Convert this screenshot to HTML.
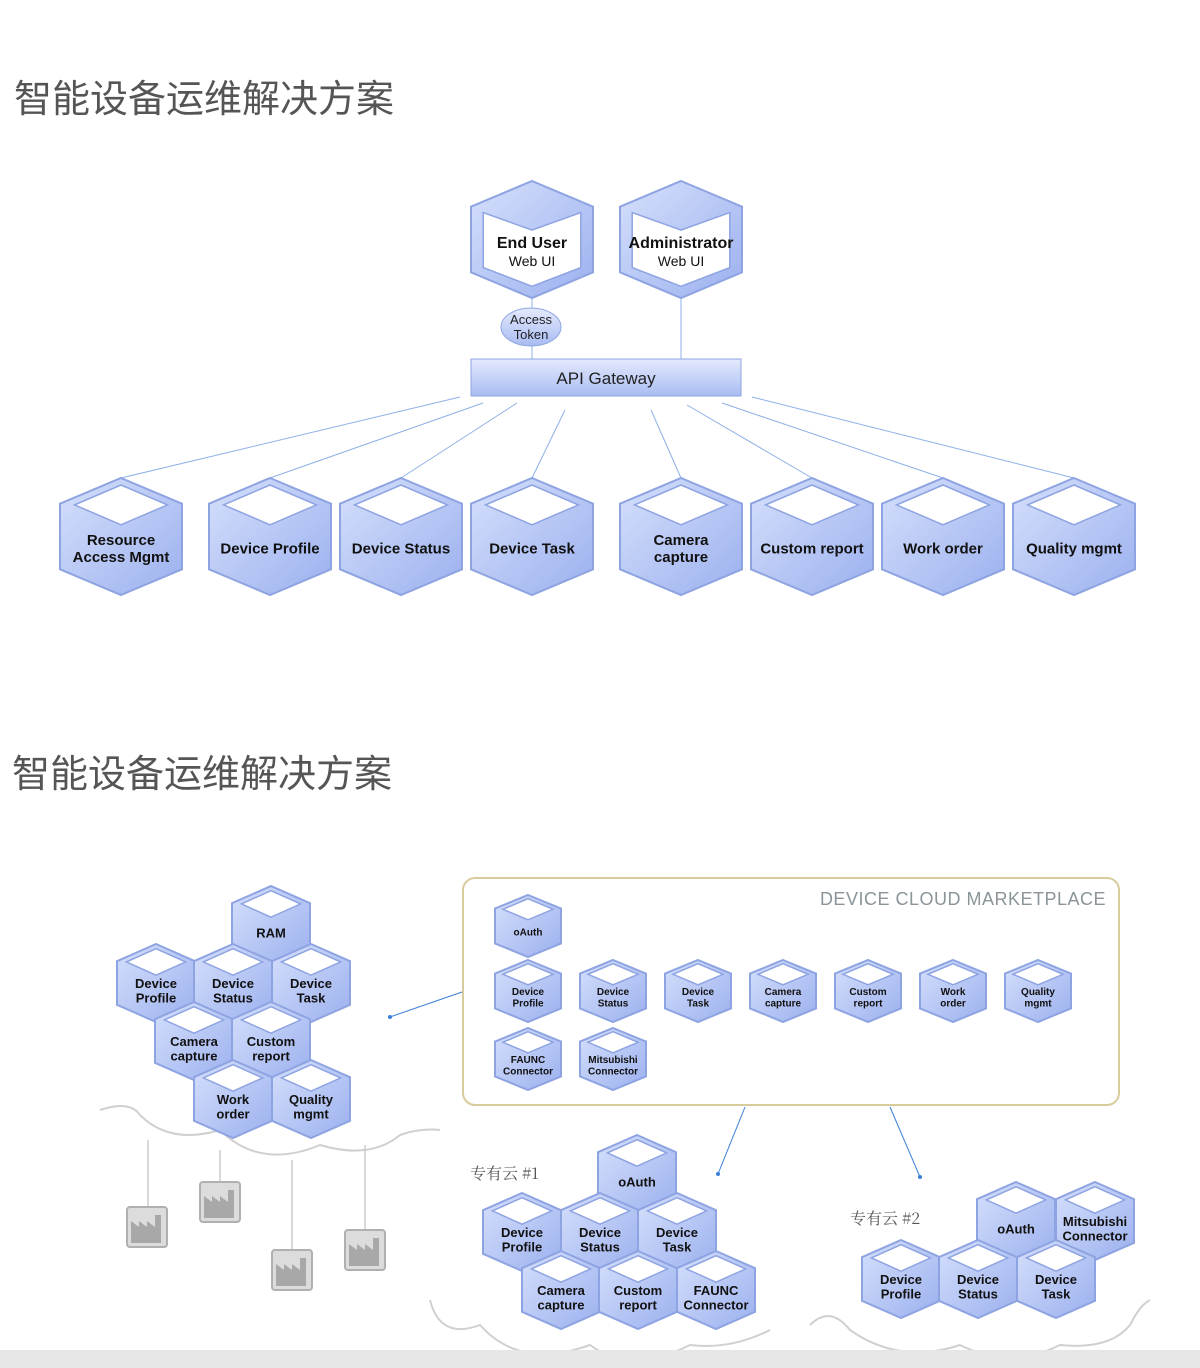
<!DOCTYPE html>
<html><head><meta charset="utf-8">
<style>
html,body{margin:0;padding:0;background:#fff;width:1200px;height:1368px;overflow:hidden}
svg{display:block}
</style></head>
<body>
<svg id="s" width="1200" height="1368" xmlns="http://www.w3.org/2000/svg" font-family="'Liberation Sans','Noto Sans CJK SC',sans-serif">
<defs>
<linearGradient id="g" x1="0" y1="0" x2="1" y2="1">
<stop offset="0" stop-color="#d6e0fc"/><stop offset="1" stop-color="#9bb0ee"/>
</linearGradient>
<linearGradient id="gb" x1="0" y1="0" x2="0" y2="1">
<stop offset="0" stop-color="#e4eafd"/><stop offset="1" stop-color="#a9bcf2"/>
</linearGradient>
</defs>
<text x="14" y="112" font-size="38" fill="#555" font-family="'Noto Sans CJK SC',sans-serif">智能设备运维解决方案</text>
<text x="12" y="787" font-size="38" fill="#555" font-family="'Noto Sans CJK SC',sans-serif">智能设备运维解决方案</text>
<g stroke="#8fb0e8" stroke-width="1" fill="none">
<line x1="532" y1="298" x2="532" y2="360"/>
<line x1="681" y1="298" x2="681" y2="360"/>
<line x1="460" y1="397" x2="121" y2="478"/>
<line x1="483" y1="403" x2="270" y2="478"/>
<line x1="517" y1="403" x2="401" y2="478"/>
<line x1="565" y1="410" x2="532" y2="478"/>
<line x1="651" y1="410" x2="681" y2="478"/>
<line x1="687" y1="405" x2="812" y2="478"/>
<line x1="722" y1="403" x2="943" y2="478"/>
<line x1="752" y1="397" x2="1074" y2="478"/>
</g>
<ellipse cx="531" cy="327" rx="30" ry="19" fill="url(#gb)" stroke="#8fa6e0"/>
<text x="531" y="324" font-size="13" text-anchor="middle" fill="#222">Access</text>
<text x="531" y="339" font-size="13" text-anchor="middle" fill="#222">Token</text>
<rect x="471" y="359" width="270" height="37" fill="url(#gb)" stroke="#8fa6e0"/>
<text x="606" y="384" font-size="17" text-anchor="middle" fill="#222">API Gateway</text>
<rect x="463" y="878" width="656" height="227" rx="12" fill="#fff" stroke="#d8cc9c" stroke-width="2"/>
<text x="1106" y="905" font-size="18" text-anchor="end" fill="#8a9499" letter-spacing="0.5">DEVICE CLOUD MARKETPLACE</text>
<g stroke="#3a7fd8" stroke-width="1">
<line x1="462" y1="992" x2="390" y2="1017"/>
<line x1="745" y1="1107" x2="718" y2="1174"/>
<line x1="890" y1="1107" x2="920" y2="1177"/>
</g>
<g fill="#3a7fd8"><circle cx="390" cy="1017" r="2"/><circle cx="718" cy="1174" r="2"/><circle cx="920" cy="1177" r="2"/></g>
<g fill="none" stroke="#d0d0d0" stroke-width="2">
<path d="M100 1110 Q130 1100 140 1115 Q170 1145 220 1130 Q260 1170 320 1145 Q370 1160 400 1135 Q420 1128 440 1130"/>
<path d="M430 1300 Q440 1340 480 1325 Q520 1370 590 1345 Q630 1375 690 1345 Q730 1350 770 1330"/>
<path d="M810 1325 Q830 1305 850 1330 Q900 1365 960 1345 Q1010 1370 1060 1345 Q1110 1350 1130 1325 Q1140 1305 1150 1300"/>
</g>
<g stroke="#ccc" stroke-width="1.5">
<line x1="148" y1="1140" x2="148" y2="1210"/>
<line x1="220" y1="1150" x2="220" y2="1182"/>
<line x1="292" y1="1160" x2="292" y2="1250"/>
<line x1="365" y1="1145" x2="365" y2="1230"/>
</g>
<g id="fact"></g>
<rect x="0" y="1350" width="1200" height="18" fill="#e6e6e6"/>
<g id="hx"></g>
</svg>
<script>
(function(){
var NS="http://www.w3.org/2000/svg",hx=document.getElementById('hx');
function el(t,a,p,txt){var e=document.createElementNS(NS,t);for(var k in a)e.setAttribute(k,a[k]);if(txt)e.textContent=txt;(p||hx).appendChild(e);return e;}
function pts(a){return a.map(function(p){return p[0].toFixed(1)+','+p[1].toFixed(1)}).join(' ')}
function hex(cx,y,w,h,lines,fs,big){
 var r=w/2;
 el('polygon',{points:pts([[cx,y],[cx+r,y+.22*h],[cx+r,y+.78*h],[cx,y+h],[cx-r,y+.78*h],[cx-r,y+.22*h]]),fill:'url(#g)',stroke:'#8ea4e2','stroke-width':2});
 if(big){
  el('polygon',{points:pts([[cx-.4*w,y+.27*h],[cx,y+.42*h],[cx+.4*w,y+.27*h],[cx+.4*w,y+.74*h],[cx,y+.9*h],[cx-.4*w,y+.74*h]]),fill:'#fff',stroke:'#8ea4e2','stroke-width':1.5});
 } else {
  el('polygon',{points:pts([[cx,y+.06*h],[cx+.38*w,y+.23*h],[cx,y+.4*h],[cx-.38*w,y+.23*h]]),fill:'#fff',stroke:'#8ea4e2','stroke-width':1.5});
 }
 var n=lines.length,lh=fs*1.12,cy=y+.6*h;
 lines.forEach(function(s,i){
  var bold=big?(i==0):true;
  el('text',{x:cx,y:cy+(i-(n-1)/2)*lh+fs*.35,'font-size':big&&i>0?fs-2:fs,'font-weight':bold?'bold':'normal','text-anchor':'middle',fill:'#111'},null,s);
 });
}
hex(532,181,122,117,['End User','Web UI'],16,true);
hex(681,181,122,117,['Administrator','Web UI'],16,true);
var tops=[[121,['Resource','Access Mgmt']],[270,['Device Profile']],[401,['Device Status']],[532,['Device Task']],[681,['Camera','capture']],[812,['Custom report']],[943,['Work order']],[1074,['Quality mgmt']]];
tops.forEach(function(t){hex(t[0],478,122,117,t[1],15)});
var W=78,H=78;
hex(271,886,W,H,['RAM'],13);
[[156,['Device','Profile']],[233,['Device','Status']],[311,['Device','Task']]].forEach(function(t){hex(t[0],944,W,H,t[1],13)});
[[194,['Camera','capture']],[271,['Custom','report']]].forEach(function(t){hex(t[0],1002,W,H,t[1],13)});
[[233,['Work','order']],[311,['Quality','mgmt']]].forEach(function(t){hex(t[0],1060,W,H,t[1],13)});
hex(528,895,66,62,['oAuth'],10);
[[528,['Device','Profile']],[613,['Device','Status']],[698,['Device','Task']],[783,['Camera','capture']],[868,['Custom','report']],[953,['Work','order']],[1038,['Quality','mgmt']]].forEach(function(t){hex(t[0],960,66,62,t[1],10)});
[[528,['FAUNC','Connector']],[613,['Mitsubishi','Connector']]].forEach(function(t){hex(t[0],1028,66,62,t[1],10)});
hex(637,1135,W,H,['oAuth'],13);
[[522,['Device','Profile']],[600,['Device','Status']],[677,['Device','Task']]].forEach(function(t){hex(t[0],1193,W,H,t[1],13)});
[[561,['Camera','capture']],[638,['Custom','report']],[716,['FAUNC','Connector']]].forEach(function(t){hex(t[0],1251,W,H,t[1],13)});
[[1016,['oAuth']],[1095,['Mitsubishi','Connector']]].forEach(function(t){hex(t[0],1182,W,H,t[1],13)});
[[901,['Device','Profile']],[978,['Device','Status']],[1056,['Device','Task']]].forEach(function(t){hex(t[0],1240,W,H,t[1],13)});
el('text',{x:470,y:1179,'font-size':16,fill:'#555','font-family':"'Noto Serif CJK SC',serif"},null,'专有云 #1');
el('text',{x:850,y:1224,'font-size':16,fill:'#555','font-family':"'Noto Serif CJK SC',serif"},null,'专有云 #2');
var f=document.getElementById('fact');
[[127,1207],[200,1182],[272,1250],[345,1230]].forEach(function(p){
 var x=p[0],y=p[1];
 el('rect',{x:x,y:y,width:40,height:40,rx:3,fill:'#dcdcdc',stroke:'#b0b0b0','stroke-width':2},f);
 el('polygon',{points:pts([[x+4,y+36],[x+4,y+14],[x+12,y+20],[x+12,y+14],[x+20,y+20],[x+20,y+14],[x+28,y+20],[x+28,y+8],[x+34,y+8],[x+34,y+36]]),fill:'#a8a8a8'},f);
});
})();
</script>
</body></html>
